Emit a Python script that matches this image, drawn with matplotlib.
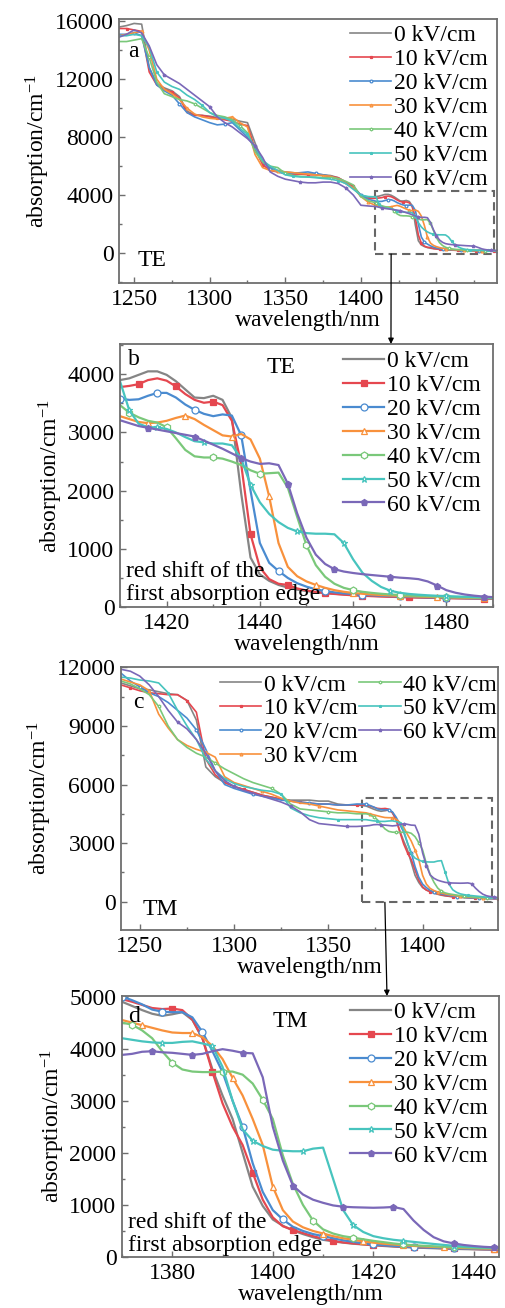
import matplotlib
matplotlib.use('Agg')
import matplotlib.pyplot as plt
from matplotlib.ticker import MultipleLocator
from matplotlib.patches import Rectangle, ConnectionPatch

plt.rcParams['font.family'] = ['Liberation Serif', 'DejaVu Serif']
plt.rcParams['mathtext.fontset'] = 'custom'
plt.rcParams['mathtext.rm'] = 'Liberation Serif'
plt.rcParams['mathtext.it'] = 'Liberation Serif:italic'

labels = ['0 kV/cm', '10 kV/cm', '20 kV/cm', '30 kV/cm', '40 kV/cm', '50 kV/cm', '60 kV/cm']
colors = ['#858585', '#e5474f', '#4a8bd0', '#f8913c', '#7ac87a', '#47c4be', '#7a68b8']
markers = ['', 's', 'o', '^', 'h', '*', 'p']
filled = [True, True, False, False, False, False, True]

# ---------------- TE ----------------
wl_te = list(range(1240, 1410, 5)) + list(range(1410, 1491, 2))

te_0 = [15600, 15700, 15850, 15800, 12800, 11700, 11400, 11200, 10800, 9800, 9550, 9500, 9450, 9350, 9300, 9250, 9100,
        9000, 7600, 6300, 5900, 5700, 5600, 5550, 5500, 5450, 5450, 5400, 5350, 5200, 4900, 4600, 4000, 3850,
        3900, 3930, 3990, 4050, 4050, 3990, 3880, 3740, 3600, 3590, 3630, 3560, 3250, 1950, 850, 560, 450, 380,
        335, 300, 275, 255, 240, 228, 218, 208, 200, 193, 187, 181, 176, 171, 167, 163, 159, 156, 153, 150, 148,
        146, 144]
te_10 = [15500, 15500, 15400, 15300, 12500, 11600, 11300, 11100, 10700, 9700, 9500, 9500, 9400, 9300, 9200, 9100,
         8900, 8800, 7200, 6100, 5700, 5600, 5500, 5450, 5450, 5400, 5400, 5350, 5300, 5200, 4900, 4600, 3900, 3750,
         3780, 3800, 3830, 3900, 3930, 3890, 3790, 3660, 3560, 3510, 3530, 3470, 3200, 2450, 1250, 680, 480, 400,
         380, 320, 285, 260, 240, 225, 212, 202, 194, 187, 181, 176, 171, 167, 163, 159, 156, 153, 150, 148, 146,
         144, 142]
te_20 = [15100, 15100, 15200, 15000, 12800, 11600, 11200, 10900, 10300, 9700, 9400, 9200, 9000, 8850, 8900, 9000,
         8500, 8000, 7300, 6300, 5800, 5600, 5500, 5500, 5550, 5600, 5500, 5400, 5300, 5100, 4800, 4500, 4000, 3700,
         3580, 3560, 3570, 3630, 3680, 3680, 3600, 3480, 3390, 3320, 3280, 3310, 3290, 2950, 2000, 1100, 760, 620,
         500, 410, 350, 305, 275, 252, 235, 222, 212, 203, 195, 188, 182, 177, 172, 168, 164, 160, 157, 154, 151,
         149, 147]
te_30 = [15000, 15100, 15200, 15300, 14000, 12000, 11300, 11000, 10600, 10000, 9600, 9400, 9300, 9250, 9300, 9400,
         9000, 8700, 6800, 5900, 5700, 5650, 5600, 5550, 5500, 5450, 5400, 5350, 5300, 5100, 4800, 4500, 3900, 3500,
         3280, 3230, 3180, 3160, 3170, 3200, 3250, 3290, 3230, 3130, 3040, 2950, 2930, 2975, 2880, 2550, 1900, 1100,
         690, 530, 440, 380, 330, 290, 262, 242, 228, 216, 206, 198, 191, 185, 180, 175, 171, 167, 163, 160, 157,
         154, 151]
te_40 = [14600, 14600, 14700, 14800, 13500, 11800, 11000, 10800, 10600, 10500, 10300, 10000, 9700, 9500, 9400, 9200,
         8800, 8300, 7000, 6300, 6000, 5900, 5500, 5350, 5300, 5250, 5250, 5200, 5200, 5150, 4950, 4700, 3900, 3600,
         3470, 3340, 3260, 3200, 3170, 3090, 2900, 2700, 2590, 2570, 2570, 2550, 2500, 2440, 2350, 2290, 2300, 2310,
         2050, 1550, 1060, 720, 520, 400, 330, 290, 262, 243, 228, 216, 206, 198, 191, 185, 180, 175, 171, 167, 163,
         160, 157]
te_50 = [15000, 15000, 15100, 15000, 14200, 12500, 11800, 11500, 11300, 10900, 10600, 10200, 9700, 9400, 9300, 9100,
         8600, 8200, 7300, 6400, 6000, 5700, 5400, 5300, 5250, 5250, 5200, 5150, 5100, 5000, 4800, 4400, 4000, 3900,
         3880, 3380, 3150, 3090, 3090, 3060, 3000, 2920, 2850, 2830, 2810, 2810, 2780, 2550, 2100, 1800, 1600, 1460,
         1360, 1300, 1270, 1260, 1260, 1250, 1100, 820, 590, 450, 345, 280, 245, 225, 212, 202, 194, 188, 182, 177,
         172, 168, 164]
te_60 = [14900, 15100, 15400, 15200, 14300, 13000, 12300, 12000, 11700, 11300, 10900, 10500, 10100, 9400, 9000, 8700,
         8300, 7900, 7400, 6600, 5600, 5300, 5100, 5000, 4900, 4850, 4850, 4900, 4900, 4800, 4500, 4000, 3300, 3250,
         3210, 3160, 3110, 3080, 3050, 3020, 2990, 2960, 2930, 2860, 2790, 2720, 2640, 2560, 2500, 2460, 2470, 2440,
         2120, 1610, 1190, 900, 740, 650, 610, 585, 565, 550, 535, 520, 505, 495, 480, 440, 370, 290, 245, 215, 195,
         180, 170]
te_curves = [te_0, te_10, te_20, te_30, te_40, te_50, te_60]
te_marks = [[],
            [1414, 1422, 1430, 1438, 1446, 1454, 1462, 1472, 1480, 1488],
            [1410, 1418, 1426, 1436, 1444, 1454, 1462, 1470, 1480],
            [1416, 1424, 1434, 1442, 1452, 1460, 1470, 1478, 1488],
            [1412, 1420, 1430, 1440, 1450, 1460, 1470, 1480],
            [1412, 1418, 1428, 1438, 1448, 1458, 1468, 1480],
            [1416, 1426, 1436, 1446, 1456, 1468, 1478, 1488]]

# ---------------- TM ----------------
wl_tm = list(range(1240, 1370, 5)) + list(range(1370, 1447, 2))

tm_0 = [11200, 11050, 10900, 10850, 10750, 10650, 10600, 10300, 9300, 6900, 6400, 6100, 5900, 5750, 5600, 5450, 5350,
        5250, 5200, 5200, 5200, 5150, 5150, 5000, 4950, 4950,
        4900, 4820, 4740, 4670, 4630, 4660, 4700, 4550, 4200, 3600, 3100, 2650, 2000, 1350, 980, 720, 600, 510, 440,
        380, 330, 300, 275, 255, 240, 225, 212, 200, 190, 182, 175, 168, 162, 156, 151, 147, 143, 140, 137]
tm_10 = [11100, 10950, 10800, 10700, 10650, 10600, 10600, 10300, 9700, 7300, 6500, 6100, 5900, 5750, 5600, 5450, 5350,
         5250, 5150, 5100, 5050, 5000, 5000, 4950, 4950, 4950,
         4950, 4900, 4840, 4780, 4760, 4770, 4740, 4560, 4200, 3550, 2950, 2500, 2150, 1620, 1100, 760, 590, 520,
         460, 400, 350, 310, 280, 260, 245, 230, 218, 207, 197, 189, 182, 175, 169, 163, 158, 153, 149, 145, 142]
tm_20 = [11700, 11300, 11000, 10700, 10500, 10200, 9800, 9400, 8800, 7800, 6700, 6000, 5800, 5650, 5500, 5400, 5300,
         5200, 5150, 5100, 5050, 5000, 5000, 4950, 4950, 5000,
         5000, 4930, 4850, 4750, 4710, 4700, 4700, 4600, 4320, 3950, 3550, 3000, 2500, 1800, 1250, 900, 720, 580,
         500, 440, 400, 360, 320, 290, 262, 240, 225, 212, 201, 192, 184, 177, 171, 165, 160, 155, 151, 147, 144]
tm_30 = [11400, 11250, 11100, 10800, 9600, 8900, 8300, 8000, 7800, 7650, 7400, 6400, 6100, 5950, 5800, 5650, 5500,
         5300, 5150, 5050, 5000, 4900, 4800, 4700, 4650, 4600,
         4550, 4500, 4450, 4400, 4350, 4310, 4300, 4300, 4220, 4050, 3800, 3440, 3100, 2650, 2150, 1350, 900, 680,
         570, 500, 450, 400, 360, 330, 300, 275, 255, 240, 225, 212, 202, 193, 185, 178, 172, 167, 162, 158, 154]
tm_40 = [11300, 11150, 10900, 10600, 10000, 9000, 8300, 7900, 7600, 7400, 7100, 6800, 6550, 6300, 6100, 5950, 5800,
         5500, 5000, 4750, 4700, 4650, 4600, 4550, 4550, 4500,
         4500, 4460, 4350, 4200, 3950, 3730, 3600, 3560, 3550, 3550, 3560, 3560, 3500, 3330, 3020, 2650, 1950, 1400,
         1000, 700, 530, 450, 400, 370, 340, 310, 285, 260, 240, 225, 215, 205, 197, 190, 184, 178, 173, 168, 164]
tm_50 = [11500, 11450, 11350, 11300, 11200, 10700, 9800, 9000, 8300, 7300, 6700, 6300, 6050, 5900, 5800, 5700, 5650,
         5500, 4800, 4550, 4400, 4300, 4250, 4200, 4200, 4200,
         4200, 4170, 4140, 4120, 4110, 4110, 4130, 4140, 4100, 4050, 3650, 3000, 2450, 2230, 2130, 2060, 2040, 2030,
         2030, 2080, 2100, 1500, 900, 610, 480, 400, 360, 330, 310, 290, 270, 250, 232, 215, 203, 193, 184, 177, 170]
tm_60 = [11900, 11800, 11550, 11100, 10500, 9800, 9200, 8850, 8300, 7600, 6700, 6200, 5900, 5700, 5550, 5400, 5250,
         5100, 4900, 4600, 4200, 4000, 3950, 3900, 3850, 3850,
         3880, 3900, 3940, 3950, 3930, 3920, 3900, 3880, 3900, 3950, 3990, 3960, 3920, 3910, 3450, 2500, 1850, 1370,
         1200, 1100, 1040, 990, 965, 955, 950, 945, 950, 960, 920, 700, 520, 380, 300, 260, 230, 210, 195, 185, 175]
tm_curves = [tm_0, tm_10, tm_20, tm_30, tm_40, tm_50, tm_60]
tm_marks = [[],
            [1380, 1388, 1396, 1404, 1412, 1420, 1428, 1436, 1444],
            [1370, 1378, 1386, 1394, 1402, 1410, 1420, 1428, 1436],
            [1374, 1384, 1392, 1400, 1410, 1418, 1426, 1434, 1444],
            [1372, 1380, 1390, 1398, 1408, 1416, 1426, 1436],
            [1378, 1388, 1396, 1406, 1416, 1426, 1436],
            [1376, 1384, 1394, 1404, 1414, 1424, 1436, 1444]]

frame = '#6e6e6e'
fs = 17


def draw(ax, wl, curves, marks=None, lw=1.2, ms=2.0):
    for i, y in enumerate(curves):
        if marks is None:
            me = (i, 6)
        else:
            me = [wl.index(w) for w in marks[i]] or None
        ax.plot(wl, y, color=colors[i], lw=lw, marker=markers[i] or None, ms=ms,
                mfc=colors[i] if filled[i] else 'white', mec=colors[i], mew=0.9,
                markevery=me, label=labels[i])


def style(ax, xlim, ylim, xmaj, xmin, ymaj, ymin):
    ax.set_xlim(*xlim)
    ax.set_ylim(*ylim)
    ax.xaxis.set_major_locator(MultipleLocator(xmaj))
    ax.xaxis.set_minor_locator(MultipleLocator(xmin))
    ax.yaxis.set_major_locator(MultipleLocator(ymaj))
    ax.yaxis.set_minor_locator(MultipleLocator(ymin))
    ax.tick_params(which='both', direction='in', color=frame, labelsize=fs, pad=4)
    ax.tick_params(which='major', length=4, width=1)
    ax.tick_params(which='minor', length=2.5, width=1)
    for s in ax.spines.values():
        s.set_color(frame)
        s.set_linewidth(1.3)
    ax.set_xlabel('wavelength/nm', fontsize=fs, labelpad=0)
    ax.set_ylabel('absorption/cm$^{-1}$', fontsize=fs, labelpad=2)


def legend(ax, x, y, ncol=1):
    ax.legend(loc='upper left', bbox_to_anchor=(x, y), frameon=False, fontsize=fs, ncol=ncol,
              handlelength=1.75, handletextpad=0.12, labelspacing=0.1, borderpad=0,
              borderaxespad=0, columnspacing=0.05)


fig = plt.figure(figsize=(5.05, 13.08), dpi=100)
ax_a = fig.add_axes([0.2356, 0.7836, 0.7485, 0.2018])
ax_b = fig.add_axes([0.2376, 0.5359, 0.7386, 0.2011])
ax_c = fig.add_axes([0.2396, 0.2890, 0.7465, 0.2011])
ax_d = fig.add_axes([0.2416, 0.0390, 0.7465, 0.1995])

# panel a
draw(ax_a, wl_te, te_curves)
style(ax_a, (1240, 1490), (-2070, 16150), 50, 25, 4000, 2000)
legend(ax_a, 0.611, 0.978)
ax_a.text(0.024, 0.856, 'a', transform=ax_a.transAxes, fontsize=fs, va='baseline')
ax_a.text(0.048, 0.064, 'TE', transform=ax_a.transAxes, fontsize=fs, va='baseline')
ax_a.add_patch(Rectangle((1409, -70), 79, 4370, fill=False, ls=(0, (4, 2.5)), lw=1.5, ec='#666666'))

# panel b
draw(ax_b, wl_te, te_curves, te_marks, lw=1.6, ms=5)
style(ax_b, (1410, 1490), (0, 4520), 20, 10, 1000, 500)
legend(ax_b, 0.598, 0.974)
ax_b.text(0.021, 0.92, 'b', transform=ax_b.transAxes, fontsize=fs, va='baseline')
ax_b.text(0.394, 0.89, 'TE', transform=ax_b.transAxes, fontsize=fs, va='baseline')
ax_b.text(0.016, 0.115, 'red shift of the', transform=ax_b.transAxes, fontsize=fs, va='baseline')
ax_b.text(0.016, 0.027, 'first absorption edge', transform=ax_b.transAxes, fontsize=fs, va='baseline')

# panel c
draw(ax_c, wl_tm, tm_curves)
style(ax_c, (1240, 1440), (-1450, 12020), 50, 25, 3000, 1500)
legend(ax_c, 0.263, 0.973, ncol=2)
ax_c.text(0.032, 0.844, 'c', transform=ax_c.transAxes, fontsize=fs, va='baseline')
ax_c.text(0.056, 0.057, 'TM', transform=ax_c.transAxes, fontsize=fs, va='baseline')
ax_c.add_patch(Rectangle((1368, -30), 69, 5355, fill=False, ls=(0, (4, 2.5)), lw=1.5, ec='#666666'))

# panel d
draw(ax_d, wl_tm, tm_curves, tm_marks, lw=1.6, ms=5)
style(ax_d, (1370, 1445), (0, 5010), 20, 10, 1000, 500)
legend(ax_d, 0.605, 0.978)
ax_d.text(0.016, 0.90, 'd', transform=ax_d.transAxes, fontsize=fs, va='baseline')
ax_d.text(0.40, 0.882, 'TM', transform=ax_d.transAxes, fontsize=fs, va='baseline')
ax_d.text(0.016, 0.111, 'red shift of the', transform=ax_d.transAxes, fontsize=fs, va='baseline')
ax_d.text(0.016, 0.024, 'first absorption edge', transform=ax_d.transAxes, fontsize=fs, va='baseline')

# arrows from the dashed boxes to the zoomed panels
for src, dst, x0, y0, xb in [(ax_a, ax_b, 1420, -70, 0.7265), (ax_c, ax_d, 1380, -30, 0.7029)]:
    con = ConnectionPatch(xyA=(x0, y0), coordsA=src.transData, xyB=(xb, 1.0), coordsB=dst.transAxes,
                          arrowstyle='-|>', mutation_scale=8, lw=0.9, color='black')
    fig.add_artist(con)

fig.savefig('out.png', dpi=100)
